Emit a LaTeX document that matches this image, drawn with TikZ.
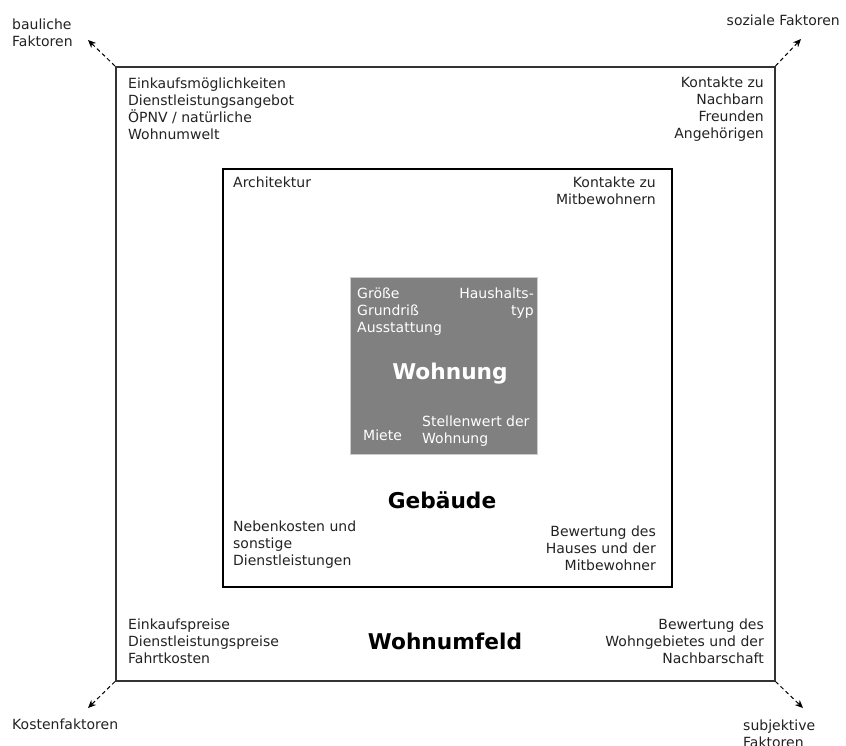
\documentclass[tikz,border=0pt]{standalone}
\usepackage{fontspec}
\setmainfont{DejaVu Sans}
\usetikzlibrary{arrows.meta}
\definecolor{txt}{HTML}{222222}
\definecolor{boxgray}{HTML}{808080}
\tikzset{
  lbl/.style={inner sep=0pt, text=txt, font=\fontsize{14}{17}\selectfont},
  lblL/.style={lbl, anchor=base west, align=left},
  lblR/.style={lbl, anchor=base east, align=right},
  title/.style={inner sep=0pt, anchor=base, font=\fontsize{21.7}{26}\selectfont\bfseries},
  frame/.style={draw, inner sep=0pt, anchor=north west},
  factor/.style={-{Stealth[length=8pt,width=7pt]}, dashed, dash pattern=on 4pt off 3pt, line width=1pt, black}
}
\begin{document}
\begin{tikzpicture}[x=1pt,y=-1pt]
\useasboundingbox (0,0) rectangle (846,745);
% boxes
\node[frame, draw=black!80, line width=1.5pt, minimum width=659pt, minimum height=614pt] (outer) at (115,66) {};
\node[frame, draw=black, line width=2pt, minimum width=449pt, minimum height=418pt] (inner) at (222,168) {};
\node[frame, draw=black!20, fill=boxgray, line width=0.6pt, minimum width=187pt, minimum height=177pt] (core) at (350,277) {};
% factor labels (anchors at the baseline of the last line)
\node[lblL] (bau) at (12,46.5) {bauliche\\Faktoren};
\node[lblR] (soz) at (840,25) {soziale Faktoren};
\node[lblL] (kost) at (12,729) {Kostenfaktoren};
\node[lblL] (subj) at (743,747) {subjektive\\Faktoren};
\coordinate (tbau) at (88,40);
\coordinate (tsoz) at (801,39);
\coordinate (tkost) at (88,708);
\coordinate (tsubj) at (803,708);
\draw[factor] (outer.north west) -- (tbau);
\draw[factor] (outer.north east) -- (tsoz);
\draw[factor] (outer.south west) -- (tkost);
\draw[factor] (outer.south east) -- (tsubj);
% outer texts
\node[lblL] (o1) at (128,139) {Einkaufsmöglichkeiten\\Dienstleistungsangebot\\ÖPNV / natürliche\\Wohnumwelt};
\node[lblR] (o2) at (764,138) {Kontakte zu\\Nachbarn\\Freunden\\Angehörigen};
\node[lblL] (o3) at (128,663) {Einkaufspreise\\Dienstleistungspreise\\Fahrtkosten};
\node[lblR] (o4) at (764,663) {Bewertung des\\Wohngebietes und der\\Nachbarschaft};
\node[title, text=black] (wumf) at (445,649) {Wohnumfeld};
% inner texts
\node[lblL] (i1) at (233,187) {Architektur};
\node[lblR] (i2) at (656,204) {Kontakte zu\\Mitbewohnern};
\node[lblL] (i3) at (233,565) {Nebenkosten und\\sonstige\\Dienstleistungen};
\node[lblR] (i4) at (656,570) {Bewertung des\\Hauses und der\\Mitbewohner};
\node[title, text=black] (geb) at (442,508) {Gebäude};
% core texts
\node[lblL, text=white] (c1) at (357,332) {Größe\\Grundriß\\Ausstattung};
\node[lblR, text=white] (c2) at (534,315) {Haushalts-\\typ};
\node[lblL, text=white] (c3) at (363,440) {Miete};
\node[lblL, text=white] (c4) at (422,443) {Stellenwert der\\Wohnung};
\node[title, text=white] (wohn) at (450,379) {Wohnung};
\end{tikzpicture}
\end{document}
